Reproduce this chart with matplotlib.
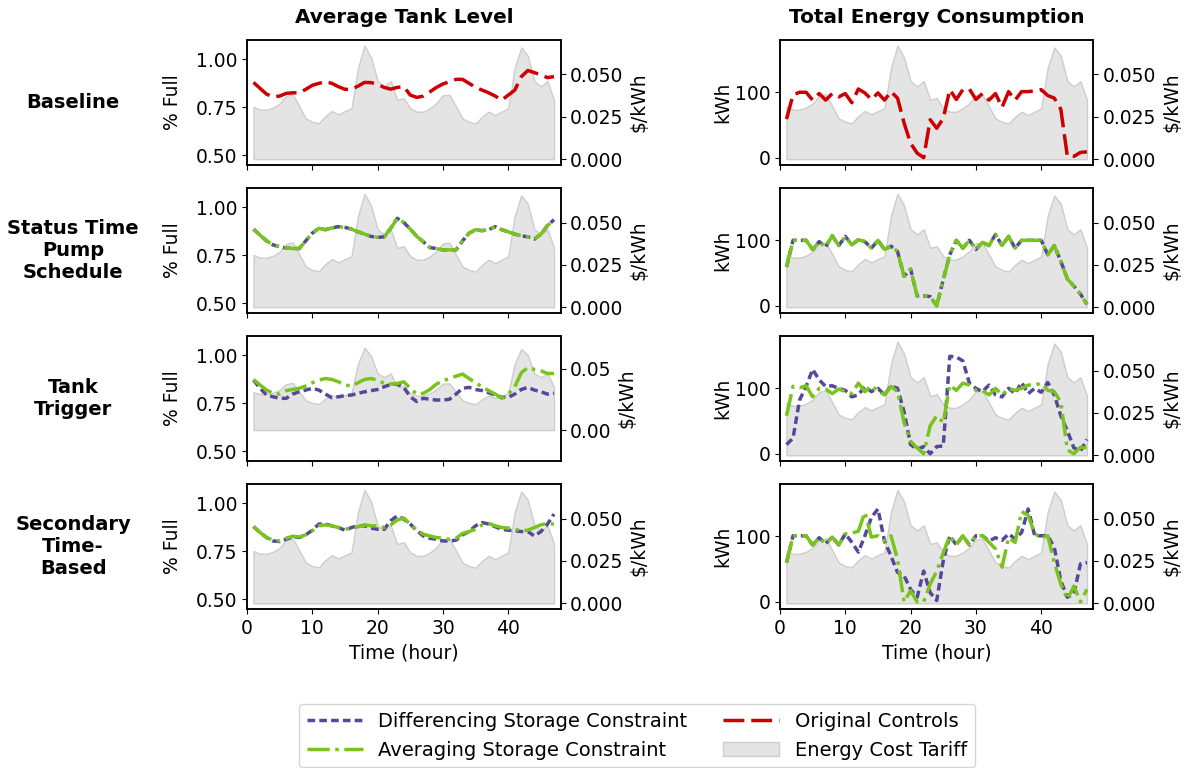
import numpy as np
import matplotlib
matplotlib.use("Agg")
import matplotlib.pyplot as plt
from matplotlib.lines import Line2D
from matplotlib.patches import Patch

plt.rcParams["font.family"] = ["DejaVu Sans"]
plt.rcParams["font.size"] = 13.5
plt.rcParams["axes.linewidth"] = 1.1

hours = np.arange(1, 48)

# time-of-use tariff ($/kWh), two days
tariff = [0.0308, 0.0292, 0.0292, 0.0304, 0.0327, 0.0373, 0.0383, 0.0313, 0.024, 0.022,
          0.0212, 0.0254, 0.0284, 0.0264, 0.0284, 0.030, 0.054, 0.067, 0.060, 0.046,
          0.043, 0.046, 0.035, 0.036, 0.030, 0.028, 0.028, 0.030, 0.033, 0.0377,
          0.038, 0.031, 0.024, 0.022, 0.021, 0.025, 0.028, 0.026, 0.028, 0.030,
          0.054, 0.066, 0.061, 0.046, 0.043, 0.046, 0.035]

# average tank level (fraction full)
base_tank = [0.879, 0.848, 0.818, 0.804, 0.808, 0.822, 0.825, 0.825, 0.843, 0.864,
             0.874, 0.883, 0.874, 0.857, 0.843, 0.843, 0.860, 0.879, 0.878, 0.869,
             0.853, 0.844, 0.853, 0.857, 0.813, 0.801, 0.808, 0.830, 0.853, 0.871,
             0.883, 0.895, 0.895, 0.874, 0.853, 0.839, 0.825, 0.808, 0.787, 0.813,
             0.839, 0.909, 0.941, 0.930, 0.918, 0.904, 0.909]
status_tank = [0.886, 0.855, 0.825, 0.804, 0.794, 0.788, 0.785, 0.785, 0.825, 0.865,
               0.890, 0.883, 0.892, 0.899, 0.895, 0.886, 0.872, 0.860, 0.848, 0.843,
               0.846, 0.890, 0.942, 0.921, 0.886, 0.848, 0.820, 0.790, 0.785, 0.778,
               0.778, 0.778, 0.825, 0.865, 0.883, 0.878, 0.883, 0.899, 0.883, 0.872,
               0.860, 0.851, 0.846, 0.834, 0.860, 0.904, 0.935]
trig_diff_tank = [0.871, 0.828, 0.793, 0.784, 0.776, 0.776, 0.798, 0.810, 0.819, 0.828,
                  0.819, 0.798, 0.779, 0.784, 0.790, 0.793, 0.802, 0.810, 0.816, 0.822,
                  0.836, 0.848, 0.850, 0.833, 0.784, 0.759, 0.776, 0.771, 0.767, 0.767,
                  0.771, 0.798, 0.828, 0.833, 0.822, 0.816, 0.805, 0.793, 0.781, 0.781,
                  0.798, 0.822, 0.833, 0.819, 0.810, 0.798, 0.802]
trig_avg_tank = [0.874, 0.845, 0.819, 0.802, 0.798, 0.816, 0.822, 0.828, 0.840, 0.857,
                 0.871, 0.879, 0.874, 0.862, 0.845, 0.840, 0.857, 0.874, 0.879, 0.871,
                 0.853, 0.850, 0.853, 0.862, 0.828, 0.798, 0.802, 0.822, 0.850, 0.867,
                 0.879, 0.891, 0.902, 0.879, 0.857, 0.836, 0.816, 0.798, 0.776, 0.798,
                 0.836, 0.909, 0.936, 0.926, 0.919, 0.905, 0.905]
sec_diff_tank = [0.879, 0.848, 0.822, 0.804, 0.801, 0.813, 0.825, 0.822, 0.836, 0.860,
                 0.892, 0.892, 0.883, 0.874, 0.860, 0.874, 0.883, 0.883, 0.871, 0.865,
                 0.865, 0.909, 0.935, 0.918, 0.892, 0.857, 0.830, 0.818, 0.813, 0.804,
                 0.804, 0.808, 0.836, 0.853, 0.883, 0.900, 0.892, 0.878, 0.865, 0.860,
                 0.857, 0.853, 0.853, 0.830, 0.853, 0.892, 0.944]
sec_avg_tank = [0.879, 0.848, 0.822, 0.808, 0.804, 0.818, 0.829, 0.825, 0.836, 0.857,
                0.883, 0.888, 0.883, 0.874, 0.865, 0.871, 0.878, 0.888, 0.883, 0.883,
                0.874, 0.888, 0.913, 0.923, 0.892, 0.860, 0.839, 0.830, 0.822, 0.818,
                0.813, 0.818, 0.843, 0.853, 0.865, 0.888, 0.895, 0.883, 0.874, 0.871,
                0.865, 0.857, 0.860, 0.874, 0.888, 0.895, 0.892]

# total pumping energy (kWh)
base_energy = [59, 96, 100, 100, 88, 98, 88, 98, 93, 98,
               84, 105, 99, 89, 99, 88, 101, 91, 53, 22,
               7, 0, 58, 45, 60, 104, 89, 104, 105, 89,
               98, 88, 98, 77, 101, 88, 101, 101, 102, 104,
               95, 91, 74, 2, 2, 8, 9]
status_energy = [59, 100, 100, 100, 86, 98, 90, 107, 92, 106,
                 93, 101, 98, 88, 100, 86, 91, 83, 45, 56,
                 15, 15, 14, 0, 40, 78, 100, 88, 100, 86,
                 97, 92, 109, 92, 106, 88, 100, 100, 100, 100,
                 78, 92, 68, 41, 30, 18, 2]
trig_diff_energy = [14, 24, 82, 103, 129, 113, 103, 104, 100, 97,
                    87, 90, 103, 95, 100, 90, 104, 100, 64, 14,
                    7, 11, 0, 11, 12, 149, 148, 142, 108, 100,
                    95, 105, 90, 87, 100, 92, 109, 92, 100, 94,
                    109, 90, 58, 35, 9, 4, 22]
trig_avg_energy = [58, 103, 101, 104, 87, 100, 99, 92, 99, 95,
                   92, 108, 95, 104, 96, 90, 103, 95, 48, 19,
                   9, 0, 43, 58, 48, 105, 97, 108, 105, 97,
                   97, 90, 100, 90, 100, 97, 100, 105, 105, 108,
                   97, 95, 79, 6, 0, 10, 9]
sec_diff_energy = [60, 101, 101, 101, 87, 98, 89, 99, 87, 104,
                   91, 76, 101, 129, 142, 93, 70, 45, 40, 19,
                   7, 47, 14, 2, 63, 101, 87, 101, 87, 101,
                   101, 93, 98, 94, 104, 96, 106, 142, 101, 101,
                   101, 83, 32, 7, 12, 58, 60]
sec_avg_energy = [60, 101, 101, 101, 87, 98, 89, 99, 87, 104,
                  105, 108, 137, 99, 101, 93, 101, 65, 0, 17,
                  0, 0, 27, 47, 75, 101, 87, 101, 87, 101,
                  101, 91, 81, 53, 98, 91, 138, 132, 104, 98,
                  101, 60, 27, 4, 24, 0, 19]

row_labels = ["Baseline", "Status Time\nPump\nSchedule", "Tank\nTrigger",
              "Secondary\nTime-\nBased"]

RED = "#cc0000"
PURPLE = "#55489b"
GREEN = "#78c41c"
FILL = "#e4e4e4"
FILL_EDGE = "#cdcdcd"

styles = {
    "orig": dict(color=RED, ls=(0, (6.0, 2.0)), lw=2.5),
    "diff": dict(color=PURPLE, ls=(0, (2.2, 1.2)), lw=2.5),
    "avg": dict(color=GREEN, ls=(0, (6.4, 1.6, 1.0, 1.6)), lw=2.5),
}

# per row: list of (series key, tank, energy)
rows = [
    [("orig", base_tank, base_energy)],
    [("diff", status_tank, status_energy), ("avg", status_tank, status_energy)],
    [("diff", trig_diff_tank, trig_diff_energy), ("avg", trig_avg_tank, trig_avg_energy)],
    [("diff", sec_diff_tank, sec_diff_energy), ("avg", sec_avg_tank, sec_avg_energy)],
]

fig, axes = plt.subplots(4, 2, figsize=(11.99, 7.68), dpi=100, sharex=True)
fig.subplots_adjust(left=0.206, right=0.912, top=0.948, bottom=0.207,
                    wspace=0.70, hspace=0.185)

for r, series in enumerate(rows):
    for c in range(2):
        ax = axes[r, c]
        ax2 = ax.twinx()
        ax2.fill_between(hours, tariff, color=FILL, edgecolor=FILL_EDGE, lw=1)
        ax2.set_ylabel(r"\$/kWh")
        if r == 2 and c == 0:
            ax2.set_ylim(-0.0252, 0.0765)
            ax2.set_yticks([0.0, 0.05])
        else:
            ax2.set_ylim(-0.0034, 0.0704)
            ax2.set_yticks([0.0, 0.025, 0.05])
        ax.set_zorder(ax2.get_zorder() + 1)
        ax.patch.set_visible(False)

        for key, tank, energy in series:
            ax.plot(hours, tank if c == 0 else energy, **styles[key])

        if c == 0:
            ax.set_ylim(0.45, 1.10)
            ax.set_yticks([0.5, 0.75, 1.0])
            ax.set_ylabel("% Full", labelpad=10)
        else:
            ax.set_ylim(-11, 180)
            ax.set_yticks([0, 100])
            ax.set_ylabel("kWh", labelpad=2)
        ax.set_xlim(0, 48)
        ax.set_xticks([0, 10, 20, 30, 40])

    box = axes[r, 0].get_position()
    fig.text(0.061, (box.y0 + box.y1) / 2, row_labels[r], ha="center", va="center",
             fontweight="bold", fontsize=14)

axes[0, 0].set_title("Average Tank Level", fontweight="bold", fontsize=14.4, pad=12)
axes[0, 1].set_title("Total Energy Consumption", fontweight="bold", fontsize=14.4, pad=12)
axes[3, 0].set_xlabel("Time (hour)")
axes[3, 1].set_xlabel("Time (hour)")

handles = [
    Line2D([], [], **styles["diff"]),
    Line2D([], [], **styles["avg"]),
    Line2D([], [], **styles["orig"]),
    Patch(facecolor=FILL, edgecolor=FILL_EDGE),
]
labels = ["Differencing Storage Constraint", "Averaging Storage Constraint",
          "Original Controls", "Energy Cost Tariff"]
fig.legend(handles, labels, loc="lower center", bbox_to_anchor=(0.531, -0.012),
           ncol=2, fontsize=14, handlelength=2.9, columnspacing=1.8)

fig.savefig("out.png", dpi=100)
